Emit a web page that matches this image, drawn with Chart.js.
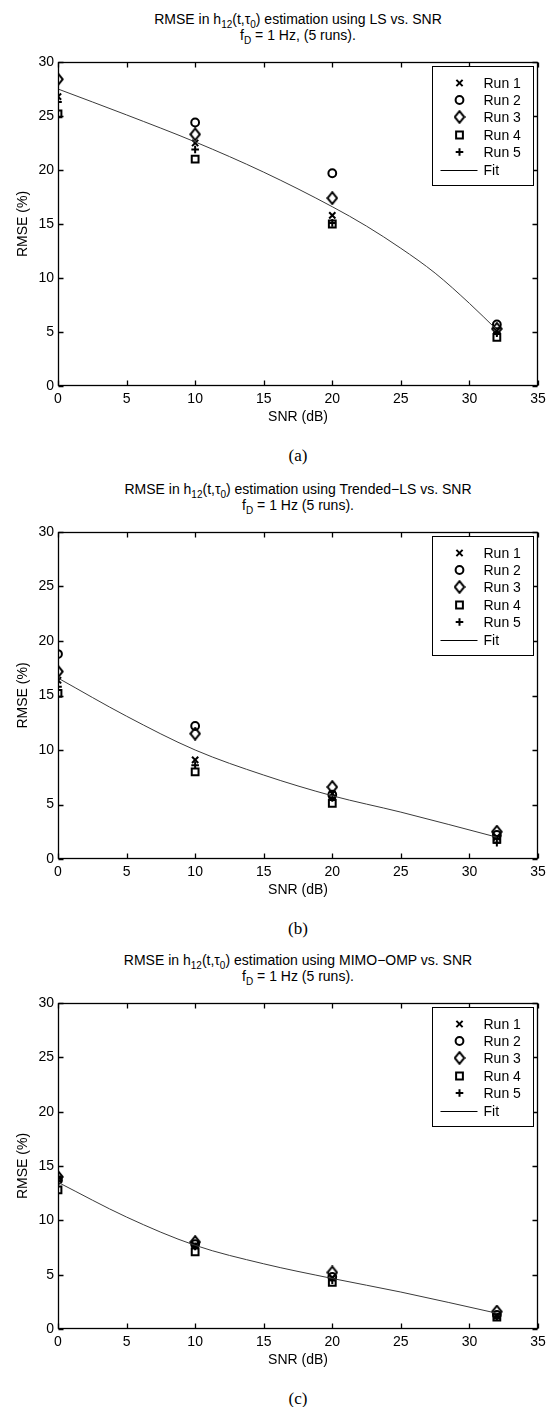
<!DOCTYPE html>
<html>
<head>
<meta charset="utf-8">
<script src="https://cdn.jsdelivr.net/npm/chart.js@4.4.1/dist/chart.umd.min.js"></script>
<style>
html,body{margin:0;padding:0;background:#fff;}
body{width:554px;height:1407px;position:relative;overflow:hidden;font-family:"Liberation Sans",Arial,Helvetica,sans-serif;color:#000;}
.t{position:absolute;left:38px;width:520px;text-align:center;font-size:14px;line-height:14px;white-space:nowrap;}
.t sub{font-size:10px;line-height:0;vertical-align:baseline;position:relative;top:4px;}
.cap{position:absolute;left:58px;width:480px;text-align:center;font-family:"Liberation Serif","Times New Roman",serif;font-size:17px;line-height:17px;}
canvas{position:absolute;left:0;}
</style>
</head>
<body>
<div id="root"></div>
<script>
// ---------------- DATA ----------------
const SNR = [0, 10, 20, 32];
const RUN_LABELS = ['Run 1', 'Run 2', 'Run 3', 'Run 4', 'Run 5'];
const FIT_LABEL = 'Fit';
const X_TICKS = [0, 5, 10, 15, 20, 25, 30, 35];
const Y_TICKS = [0, 5, 10, 15, 20, 25, 30];
const X_TITLE = 'SNR (dB)';
const Y_TITLE = 'RMSE (%)';

// (a) LS
const LS_RUN1 = [26.8, 22.5, 15.8, 5.1];
const LS_RUN2 = [null, 24.4, 19.7, 5.7];
const LS_RUN3 = [28.4, 23.3, 17.4, 5.3];
const LS_RUN4 = [25.2, 21.0, 15.0, 4.5];
const LS_RUN5 = [26.3, 21.9, 15.1, 4.9];
const LS_FIT_X = [0, 5, 10, 15, 20, 22.5, 25, 27.5, 30, 32];
const LS_FIT_Y = [27.5, 25.1, 22.6, 19.8, 16.6, 14.8, 12.75, 10.45, 7.65, 5.2];

// (b) Trended-LS
const TLS_RUN1 = [16.4, 9.1, 6.0, 2.0];
const TLS_RUN2 = [18.8, 12.2, 5.9, 2.2];
const TLS_RUN3 = [17.2, 11.5, 6.6, 2.5];
const TLS_RUN4 = [15.2, 8.0, 5.1, 1.8];
const TLS_RUN5 = [15.8, 8.6, 5.6, 1.5];
const TLS_FIT_X = [0, 5, 10, 15, 20, 25, 32];
const TLS_FIT_Y = [16.6, 13.1, 10.0, 7.7, 5.8, 4.3, 2.0];

// (c) MIMO-OMP
const OMP_RUN1 = [13.8, 7.7, 4.7, 1.2];
const OMP_RUN2 = [13.7, 7.8, 4.8, 1.3];
const OMP_RUN3 = [14.0, 8.0, 5.2, 1.6];
const OMP_RUN4 = [12.8, 7.1, 4.3, 1.1];
const OMP_RUN5 = [13.9, 7.6, 4.5, 1.1];
const OMP_FIT_X = [0, 5, 10, 15, 20, 25, 32];
const OMP_FIT_Y = [13.5, 10.3, 7.7, 6.0, 4.65, 3.4, 1.45];

const TITLE_A = ['RMSE in h<sub>12</sub>(t,τ<sub>0</sub>) estimation using LS vs. SNR', 'f<sub>D</sub> = 1 Hz, (5 runs).'];
const TITLE_B = ['RMSE in h<sub>12</sub>(t,τ<sub>0</sub>) estimation using Trended\u2212LS vs. SNR', 'f<sub>D</sub> = 1 Hz (5 runs).'];
const TITLE_C = ['RMSE in h<sub>12</sub>(t,τ<sub>0</sub>) estimation using MIMO\u2212OMP vs. SNR', 'f<sub>D</sub> = 1 Hz (5 runs).'];
const CAPTIONS = ['(a)', '(b)', '(c)'];

// ---------------- LAYOUT ----------------
const PANELS = [
  { plotTop: 62, plotBottom: 386, title: TITLE_A, runs: [LS_RUN1, LS_RUN2, LS_RUN3, LS_RUN4, LS_RUN5], fx: LS_FIT_X, fy: LS_FIT_Y },
  { plotTop: 532, plotBottom: 859, title: TITLE_B, runs: [TLS_RUN1, TLS_RUN2, TLS_RUN3, TLS_RUN4, TLS_RUN5], fx: TLS_FIT_X, fy: TLS_FIT_Y },
  { plotTop: 1003, plotBottom: 1329, title: TITLE_C, runs: [OMP_RUN1, OMP_RUN2, OMP_RUN3, OMP_RUN4, OMP_RUN5], fx: OMP_FIT_X, fy: OMP_FIT_Y }
];
const PAD_TOP = 22, XAXIS_H = 54, YAXIS_W = 58, PAD_RIGHT = 16;
const FONT = { family: '"Liberation Sans", Arial, Helvetica, sans-serif', size: 14 };
const MW = 2; // marker line width

// diamond marker (taller than wide, like MATLAB 'd')
function makeDiamond() {
  const c = document.createElement('canvas');
  c.width = 12; c.height = 14;
  const g = c.getContext('2d');
  g.strokeStyle = '#000'; g.lineWidth = MW;
  g.beginPath();
  g.moveTo(6, 1.2); g.lineTo(10.8, 7); g.lineTo(6, 12.8); g.lineTo(1.2, 7); g.closePath();
  g.stroke();
  return c;
}
const DIAMOND = makeDiamond();
const MARKERS = [
  { style: 'crossRot', r: 4.4 },
  { style: 'circle', r: 3.9 },
  { style: DIAMOND, r: 5 },
  { style: 'rect', r: 4.8 },
  { style: 'cross', r: 3.8 }
];

function drawMarker(ctx, style, r, x, y) {
  if (typeof style === 'object') {
    ctx.drawImage(style, x - style.width / 2, y - style.height / 2);
    return;
  }
  if (Chart.helpers && Chart.helpers.drawPoint) {
    ctx.save();
    ctx.strokeStyle = '#000'; ctx.fillStyle = 'rgba(0,0,0,0)'; ctx.lineWidth = MW;
    Chart.helpers.drawPoint(ctx, { pointStyle: style, radius: r, rotation: 0, borderWidth: MW }, x, y);
    ctx.restore();
  }
}

const frameLegend = {
  id: 'frameLegend',
  afterDraw(chart) {
    const { ctx, chartArea: a, scales: { x, y } } = chart;
    ctx.save();
    ctx.strokeStyle = '#000';
    ctx.lineWidth = 1.3;
    const L = Math.round(a.left) + 0.5, R = Math.round(a.right) - 0.5;
    const T = Math.round(a.top) + 0.5, B = Math.round(a.bottom) - 0.5;
    ctx.strokeRect(L, T, R - L, B - T);
    const TL = 5;
    ctx.beginPath();
    x.ticks.forEach(t => {
      const p = Math.round(x.getPixelForValue(t.value)) + 0.5;
      ctx.moveTo(p, B); ctx.lineTo(p, B - TL);
      ctx.moveTo(p, T); ctx.lineTo(p, T + TL);
    });
    y.ticks.forEach(t => {
      const p = Math.round(y.getPixelForValue(t.value)) + 0.5;
      ctx.moveTo(L, p); ctx.lineTo(L + TL, p);
      ctx.moveTo(R, p); ctx.lineTo(R - TL, p);
    });
    ctx.stroke();

    // legend box
    const W = 101, H = 119;
    const bx = Math.round(a.right) - 5 - W + 0.5;
    const by = Math.round(a.top) + 4 + 0.5;
    ctx.fillStyle = '#fff';
    ctx.fillRect(bx, by, W, H);
    ctx.lineWidth = 1;
    ctx.strokeRect(bx, by, W, H);
    ctx.font = FONT.size + 'px ' + FONT.family;
    ctx.textBaseline = 'middle';
    ctx.textAlign = 'left';
    chart.data.datasets.forEach((ds, i) => {
      const cy = Math.round(by + 16 + i * 17.4);
      if (ds.showLine) {
        ctx.strokeStyle = '#000'; ctx.lineWidth = 1;
        ctx.beginPath(); ctx.moveTo(bx + 8, cy + 0.5); ctx.lineTo(bx + 45, cy + 0.5); ctx.stroke();
      } else {
        drawMarker(ctx, ds.pointStyle, ds.pointRadius, bx + 27, cy);
      }
      ctx.fillStyle = '#000';
      ctx.fillText(ds.label, bx + 51, cy + 1);
    });
    ctx.restore();
  }
};

const root = document.getElementById('root');
PANELS.forEach((p, idx) => {
  // titles
  [p.title[0], p.title[1]].forEach((txt, k) => {
    const d = document.createElement('div');
    d.className = 't';
    d.style.top = (p.plotTop - (k === 0 ? 43 : 27) - 7) + 'px';
    d.innerHTML = txt;
    root.appendChild(d);
  });
  // caption
  const cap = document.createElement('div');
  cap.className = 'cap';
  cap.style.top = (p.plotBottom + 69 - 8.5) + 'px';
  cap.textContent = CAPTIONS[idx];
  root.appendChild(cap);

  const h = (p.plotBottom - p.plotTop) + PAD_TOP + XAXIS_H;
  const cv = document.createElement('canvas');
  cv.width = 554; cv.height = h;
  cv.style.top = (p.plotTop - PAD_TOP) + 'px';
  cv.style.width = '554px'; cv.style.height = h + 'px';
  root.appendChild(cv);

  const datasets = p.runs.map((vals, i) => ({
    label: RUN_LABELS[i],
    data: SNR.map((s, j) => ({ x: s, y: vals[j] })),
    showLine: false,
    pointStyle: MARKERS[i].style,
    pointRadius: MARKERS[i].r,
    pointHoverRadius: MARKERS[i].r,
    pointBorderWidth: MW,
    pointBorderColor: '#000',
    pointBackgroundColor: 'rgba(0,0,0,0)',
    borderColor: '#000',
    backgroundColor: 'rgba(0,0,0,0)',
    order: 1
  }));
  datasets.push({
    label: FIT_LABEL,
    data: p.fx.map((xv, j) => ({ x: xv, y: p.fy[j] })),
    showLine: true,
    borderColor: '#3a3a3a',
    borderWidth: 1,
    pointRadius: 0,
    pointHoverRadius: 0,
    fill: false,
    cubicInterpolationMode: 'monotone',
    order: 0
  });

  new Chart(cv.getContext('2d'), {
    type: 'scatter',
    data: { datasets },
    options: {
      responsive: false,
      animation: false,
      devicePixelRatio: 1,
      events: [],
      layout: { padding: { top: PAD_TOP, right: PAD_RIGHT, bottom: 0, left: 0 } },
      plugins: { legend: { display: false }, title: { display: false }, tooltip: { enabled: false } },
      scales: {
        x: {
          type: 'linear', min: 0, max: 35,
          afterBuildTicks: s => { s.ticks = X_TICKS.map(v => ({ value: v })); },
          ticks: { font: FONT, color: '#000', padding: 5, maxRotation: 0, autoSkip: false },
          grid: { display: false, drawTicks: false },
          border: { display: false },
          title: { display: true, text: X_TITLE, font: FONT, color: '#000', padding: { top: 0, bottom: 14 } },
          afterFit: s => { s.height = XAXIS_H; }
        },
        y: {
          type: 'linear', min: 0, max: 30,
          afterBuildTicks: s => { s.ticks = Y_TICKS.map(v => ({ value: v })); },
          ticks: { font: FONT, color: '#000', padding: 4, autoSkip: false },
          grid: { display: false, drawTicks: false },
          border: { display: false },
          title: { display: true, text: Y_TITLE, font: FONT, color: '#000', padding: { top: 15, bottom: 0 } },
          afterFit: s => { s.width = YAXIS_W; }
        }
      }
    },
    plugins: [frameLegend]
  });
});
</script>
</body>
</html>
